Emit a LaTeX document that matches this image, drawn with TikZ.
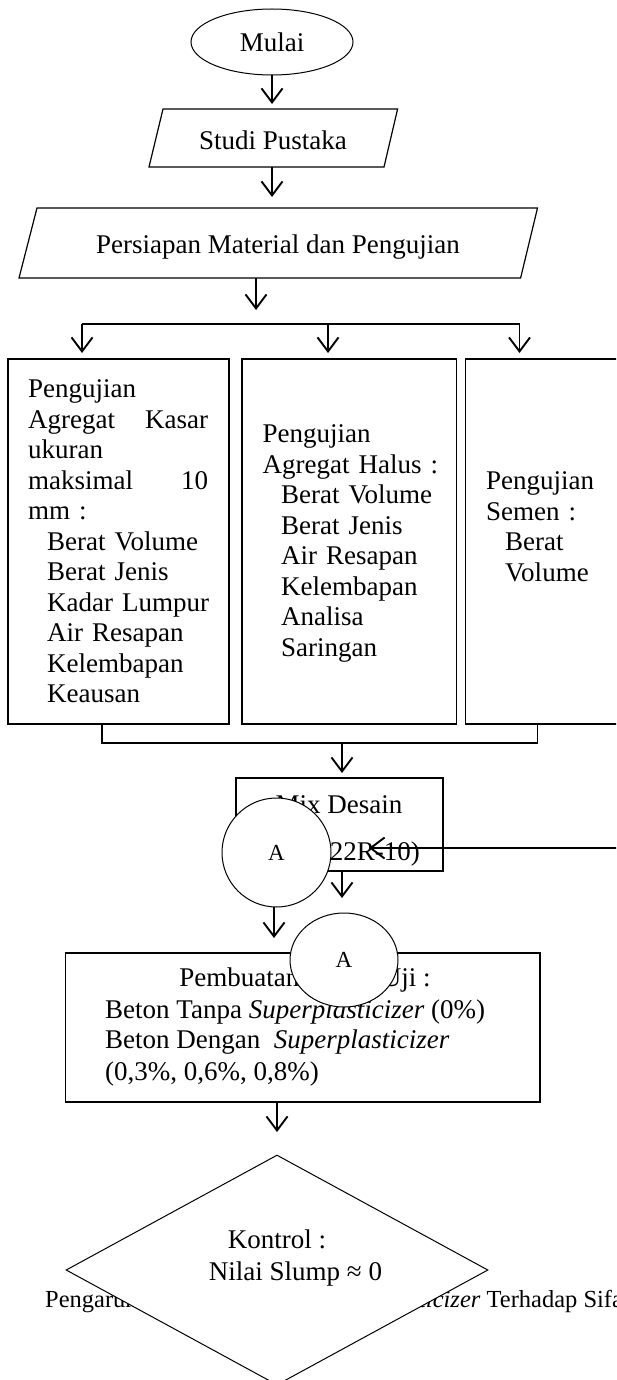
\documentclass[tikz,border=0pt]{standalone}
\usepackage{fontspec}
\setmainfont{Liberation Serif}
\usetikzlibrary{arrows.meta,shapes.geometric}
\newcommand\mainfs{\fontsize{27}{30.5}\selectfont}
\newcommand\letterfs{\fontsize{23}{26}\selectfont}
\newcommand\captionfs{\fontsize{24.5}{28}\selectfont}
\begin{document}
\begin{tikzpicture}[x=1pt,y=-1pt,
  txt/.style={font=\mainfs, inner sep=0pt},
  boxline/.style={draw, line width=1.2pt},
  thinline/.style={draw, line width=1pt},
  arr/.style={-{Straight Barb[length=14pt,width=21pt]}, line width=1.9pt},
  busline/.style={line width=1.8pt},
  term/.style={ellipse, thinline, inner sep=0pt, font=\mainfs, minimum width=162pt, minimum height=66pt},
  conn/.style={ellipse, thinline, fill=white, inner sep=0pt, font=\letterfs},
  plainbox/.style={rectangle, boxline, inner sep=0pt}
]
\useasboundingbox (0,0) rectangle (616,1380);
\clip (0,0) rectangle (616,1380);

% Mulai
\node[term] (mulai) at (272,42) {Mulai};
\coordinate (a1e) at (272,104);
\draw[arr] (mulai) -- (a1e);

% Studi Pustaka
\coordinate (st1) at (149,167);
\coordinate (st2) at (163,109);
\coordinate (st3) at (397.6,109);
\coordinate (st4) at (384,167);
\draw[boxline] (st1) -- (st2) -- (st3) -- (st4) -- cycle;
\node[txt, anchor=base] (studi) at (273,150) {Studi Pustaka};
\coordinate (a2s) at (272,167);
\coordinate (a2e) at (272,197);
\draw[arr] (a2s) -- (a2e);

% Persiapan
\coordinate (ps1) at (19,278);
\coordinate (ps2) at (37,208);
\coordinate (ps3) at (537.5,208);
\coordinate (ps4) at (520.6,278);
\draw[boxline] (ps1) -- (ps2) -- (ps3) -- (ps4) -- cycle;
\node[txt, anchor=base] (persiapan) at (278,253) {Persiapan Material dan Pengujian};
\coordinate (a3s) at (256,278);
\coordinate (a3e) at (256,310);
\draw[arr] (a3s) -- (a3e);

% top bus
\coordinate (b1) at (82,324);
\coordinate (b2) at (328,324);
\coordinate (b3) at (519.5,324);
\coordinate (b1e) at (82,353);
\coordinate (b2e) at (328,353);
\coordinate (b3e) at (519.5,353);
\draw[busline] (b1) -- (b3);
\draw[arr] (b1) -- (b1e);
\draw[arr] (b2) -- (b2e);
\draw[arr] (b3) -- (b3e);

% three test boxes
\node[plainbox, minimum width=221pt, minimum height=365pt] (kasar) at (118.5,541.5) {};
\node[plainbox, minimum width=214.6pt, minimum height=365pt] (halus) at (349.3,541.5) {};
\node[plainbox, minimum width=174.4pt, minimum height=365pt] (semen) at (552.8,541.5) {};

\node[txt, anchor=north west, text width=200pt, align=left] (kasartxt) at (28,379.6)
 {Pengujian\\
  \makebox[180pt][s]{Agregat\hfill Kasar}\\
  ukuran\\
  \makebox[180pt][s]{maksimal\hfill 10}\\
  mm :\\
  \hspace*{19pt}Berat Volume\\
  \hspace*{19pt}Berat Jenis\\
  \hspace*{19pt}Kadar Lumpur\\
  \hspace*{19pt}Air Resapan\\
  \hspace*{19pt}Kelembapan\\
  \hspace*{19pt}Keausan};

\node[txt, anchor=north west, text width=190pt, align=left] (halustxt) at (262.5,424.6)
 {Pengujian\\
  Agregat Halus :\\
  \hspace*{18.5pt}Berat Volume\\
  \hspace*{18.5pt}Berat Jenis\\
  \hspace*{18.5pt}Air Resapan\\
  \hspace*{18.5pt}Kelembapan\\
  \hspace*{18.5pt}Analisa\\
  \hspace*{18.5pt}Saringan};

\node[txt, anchor=north west, text width=125pt, align=left] (sementxt) at (486,471.6)
 {Pengujian\\
  Semen :\\
  \hspace*{19pt}Berat\\
  \hspace*{19pt}Volume};

% bottom bus
\coordinate (c1) at (102,724);
\coordinate (c1b) at (102,743);
\coordinate (c3) at (537.5,724);
\coordinate (c3b) at (537.5,743);
\draw[busline] (c1) -- (c1b) -- (c3b) -- (c3);
\coordinate (c2) at (342,743);
\coordinate (c2e) at (342,773);
\draw[arr] (c2) -- (c2e);

% Mix Desain
\node[plainbox, minimum width=207pt, minimum height=93pt] (mix) at (339.5,824.5) {};
\node[txt, anchor=base] (mixt1) at (339,813) {Mix Desain};
\node[txt, anchor=base] (mixt2) at (337,860) {(ACI 522R-10)};
\coordinate (rin) at (640,848);
\coordinate (rtip) at (369,848);
\draw[arr] (rin) -- (rtip);
\node[conn, minimum width=109pt, minimum height=109pt] (ca1) at (276.5,852.5) {A};
\coordinate (m1s) at (342,871);
\coordinate (m1e) at (342,898);
\draw[arr] (m1s) -- (m1e);
\coordinate (ca1s) at (274,907);
\coordinate (ca1e) at (274,938);
\draw[arr] (ca1s) -- (ca1e);

% Pembuatan benda uji
\node[plainbox, minimum width=474.4pt, minimum height=149pt] (buat) at (302.8,1027.5) {};
\node[txt, anchor=base] (buatt) at (305,986) {Pembuatan Benda Uji :};
\node[txt, anchor=base west] (buat1) at (105,1018) {Beton Tanpa \textit{Superplasticizer} (0\%)};
\node[txt, anchor=base west] (buat2) at (105,1048) {Beton Dengan\ \ \textit{Superplasticizer}};
\node[txt, anchor=base west] (buat3) at (105,1080) {(0,3\%, 0,6\%, 0,8\%)};
\node[conn, minimum width=108pt, minimum height=94pt] (ca2) at (344,960) {A};
\coordinate (bs) at (277,1102);
\coordinate (be) at (277,1132);
\draw[arr] (bs) -- (be);

% caption behind the decision
\node[txt, font=\captionfs, anchor=base west] (caption) at (45,1307) {Pengaruh Penambahan\hspace{46pt} \textit{Superplasticizer} Terhadap Sifat};

% Kontrol
\node[diamond, thinline, fill=white, inner sep=0pt, minimum width=422pt, minimum height=230pt] (ctrl) at (277,1270) {};
\node[txt, anchor=base] (ctrl1) at (277,1248) {Kontrol :};
\node[txt, anchor=base] (ctrl2) at (295.5,1280) {Nilai Slump ≈ 0};
\end{tikzpicture}
\end{document}
